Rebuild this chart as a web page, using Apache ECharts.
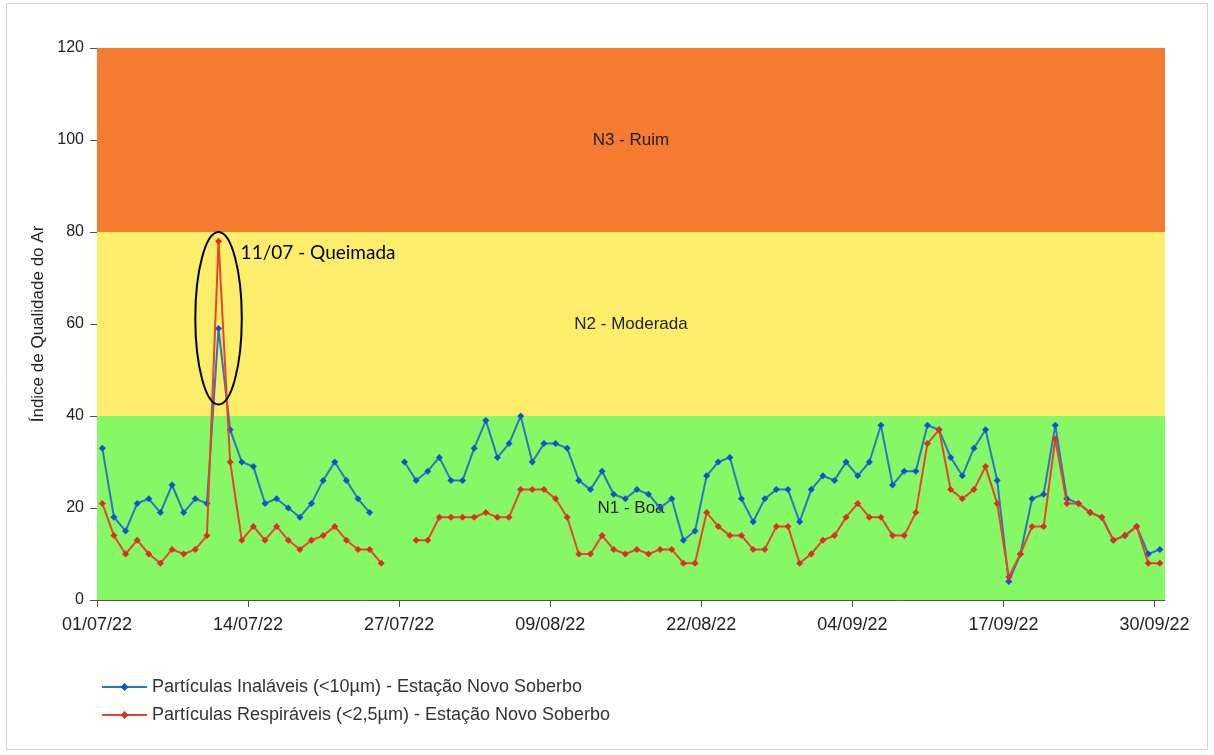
<!DOCTYPE html>
<html>
<head>
<meta charset="utf-8">
<script src="https://cdn.jsdelivr.net/npm/echarts@6/dist/echarts.min.js"></script>
<style>
  html, body { margin: 0; padding: 0; background: #fff; }
  #chart { width: 1214px; height: 755px; }
</style>
</head>
<body>
<div id="chart"></div>
<script>
// Daily air-quality index, Estação Novo Soberbo, 01/07/2022 – 30/09/2022
const startDate = [2022, 6, 1];          // year, month (0-based), day
const sampleHour = 11;                   // readings are stamped late morning

const seriesNames = [
  'Partículas Inaláveis (<10µm) - Estação Novo Soberbo',
  'Partículas Respiráveis (<2,5µm) - Estação Novo Soberbo'
];

// PM10 (inhalable particles)
const pm10 = [33,18,15,21,22,19,25,19,22,21,59,37,30,29,21,22,20,18,21,26,30,26,22,19,null,null,
  30,26,28,31,26,26,33,39,31,34,40,30,34,34,33,26,24,28,23,22,24,23,20,22,13,15,27,30,31,22,17,22,
  24,24,17,24,27,26,30,27,30,38,25,28,28,38,37,31,27,33,37,26,4,10,22,23,38,22,21,19,18,13,14,16,10,11];

// PM2.5 (respirable particles)
const pm25 = [21,14,10,13,10,8,11,10,11,14,78,30,13,16,13,16,13,11,13,14,16,13,11,11,8,null,null,
  13,13,18,18,18,18,19,18,18,24,24,24,22,18,10,10,14,11,10,11,10,11,11,8,8,19,16,14,14,11,11,
  16,16,8,10,13,14,18,21,18,18,14,14,19,34,37,24,22,24,29,21,5,10,16,16,35,21,21,19,18,13,14,16,8,8];

// Tick dates every 13 days
const tickDays = [0, 13, 26, 39, 52, 65, 78, 91];

// Quality bands
const bands = [
  { name: 'N1 - Boa',      from: 0,  to: 40,  color: '#86F866' },
  { name: 'N2 - Moderada', from: 40, to: 80,  color: '#FCEE6B' },
  { name: 'N3 - Ruim',     from: 80, to: 120, color: '#F47B30' }
];

// Burning event
const eventDay = 10;
const eventLabel = '11/07 - Queimada';

function dayToLabel(d) {
  const dt = new Date(startDate[0], startDate[1], startDate[2] + Math.round(d));
  const dd = String(dt.getDate()).padStart(2, '0');
  const mm = String(dt.getMonth() + 1).padStart(2, '0');
  const yy = String(dt.getFullYear()).slice(2);
  return dd + '/' + mm + '/' + yy;
}

function toPoints(vals) {
  return vals.map((v, i) => [i + sampleHour / 24, v]);
}

const chart = echarts.init(document.getElementById('chart'), null, { renderer: 'canvas' });
const axisColor = '#555';
const fontFam = '"Liberation Sans", Arial, sans-serif';

chart.setOption({
  animation: false,
  backgroundColor: '#fff',
  grid: { left: 97, right: 49, top: 48, bottom: 155 },
  xAxis: {
    type: 'value',
    min: 0,
    max: 91.9,
    interval: 13,
    splitLine: { show: false },
    axisLine: { show: true, lineStyle: { color: axisColor, width: 1 } },
    axisTick: { show: true, length: 7, lineStyle: { color: axisColor }, customValues: tickDays },
    axisLabel: {
      customValues: tickDays,
      formatter: v => dayToLabel(v),
      color: '#222', fontSize: 18, fontFamily: fontFam, margin: 16
    }
  },
  yAxis: {
    type: 'value',
    min: 0, max: 120, interval: 20,
    name: 'Índice de Qualidade do Ar',
    nameLocation: 'middle',
    nameGap: 48,
    nameTextStyle: { color: '#222', fontSize: 17, fontFamily: fontFam },
    splitLine: { show: false },
    axisLine: { show: true, lineStyle: { color: axisColor, width: 1 } },
    axisTick: { show: true, length: 7, lineStyle: { color: axisColor } },
    axisLabel: { color: '#222', fontSize: 16, fontFamily: fontFam, margin: 13 }
  },
  legend: {
    data: seriesNames,
    orient: 'vertical',
    left: 96, top: 673,
    itemWidth: 45, itemHeight: 10, itemGap: 10,
    textStyle: { color: '#333', fontSize: 18, fontFamily: fontFam }
  },
  series: [
    {
      name: 'bands',
      type: 'line',
      data: [],
      z: 1,
      silent: true,
      markArea: {
        silent: true,
        label: { show: true, position: 'inside', color: '#222', fontSize: 17, fontFamily: fontFam },
        data: bands.map(b => [
          { yAxis: b.from, name: b.name, itemStyle: { color: b.color } },
          { yAxis: b.to }
        ])
      }
    },
    {
      name: seriesNames[0],
      type: 'line',
      data: toPoints(pm10),
      z: 3,
      connectNulls: false,
      symbol: 'diamond',
      symbolSize: 7,
      showAllSymbol: true,
      lineStyle: { color: '#2E74BF', width: 2 },
      itemStyle: { color: '#1450D2' }
    },
    {
      name: seriesNames[1],
      type: 'line',
      data: toPoints(pm25),
      z: 4,
      connectNulls: false,
      symbol: 'diamond',
      symbolSize: 7,
      showAllSymbol: true,
      lineStyle: { color: '#E5462B', width: 2 },
      itemStyle: { color: '#DD2F1E' }
    }
  ]
});

// Outer frame, event ellipse and caption
const ex = eventDay + sampleHour / 24;
const cTop = chart.convertToPixel({ gridIndex: 0 }, [ex, 80]);
const cBot = chart.convertToPixel({ gridIndex: 0 }, [ex, 42.5]);
const cSide = chart.convertToPixel({ gridIndex: 0 }, [ex + 2, 61]);
const txt = chart.convertToPixel({ gridIndex: 0 }, [ex + 1.9, 75.5]);

chart.setOption({
  graphic: [
    {
      type: 'rect', silent: true, z: 0,
      shape: { x: 6.5, y: 3.5, width: 1201, height: 746 },
      style: { fill: null, stroke: '#d4d4d4', lineWidth: 1 }
    },
    {
      type: 'ellipse', silent: true, z: 100,
      shape: {
        cx: cTop[0], cy: (cTop[1] + cBot[1]) / 2,
        rx: cSide[0] - cTop[0], ry: (cBot[1] - cTop[1]) / 2
      },
      style: { fill: null, stroke: '#000', lineWidth: 2 }
    },
    {
      type: 'text', silent: true, z: 100,
      x: txt[0], y: txt[1],
      style: {
        text: eventLabel, fill: '#000', fontSize: 19,
        fontFamily: 'Lato, "Open Sans", sans-serif',
        textAlign: 'left', textVerticalAlign: 'middle'
      }
    }
  ]
});
</script>
</body>
</html>
